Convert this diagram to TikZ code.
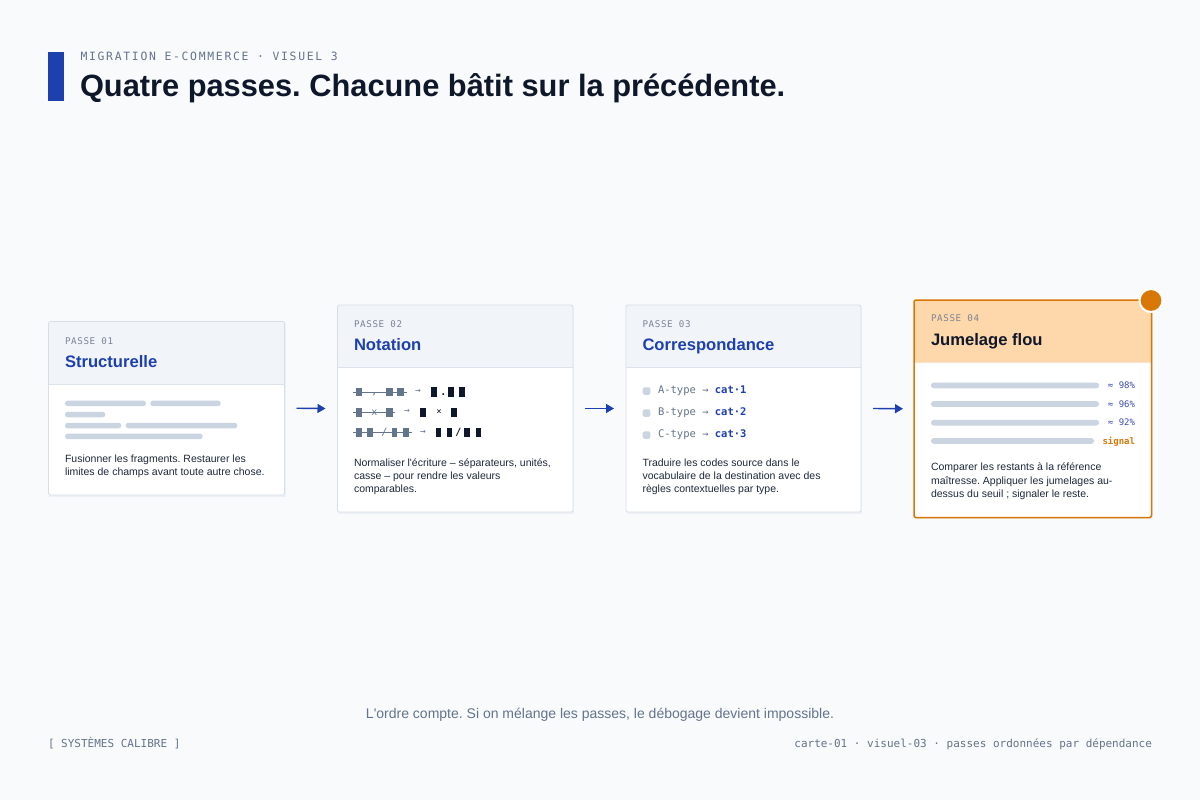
\documentclass[tikz,border=0pt]{standalone}
\usepackage{fontspec}
\setmainfont{Liberation Sans}[Ligatures=TeXOff]
\newfontfamily\monof{DejaVu Sans Mono}[Ligatures=TeXOff]
\newfontfamily\monoL{DejaVu Sans Mono}[Ligatures=TeXOff,LetterSpace=15]
\newfontfamily\monoP{DejaVu Sans Mono}[Ligatures=TeXOff,LetterSpace=7]
\usetikzlibrary{arrows.meta}
\frenchspacing
\definecolor{bgc}{HTML}{F8FAFC}
\definecolor{cardline}{HTML}{D8DEE8}
\definecolor{hdrc}{HTML}{F1F4F9}
\definecolor{divc}{HTML}{DDE3EC}
\definecolor{bluec}{HTML}{1E40AF}
\definecolor{pctc}{HTML}{3B4CB0}
\definecolor{inkc}{HTML}{0F172A}
\definecolor{txtc}{HTML}{1E293B}
\definecolor{slatec}{HTML}{64748B}
\definecolor{mutedc}{HTML}{7B8494}
\definecolor{barc}{HTML}{CBD5E1}
\definecolor{orangec}{HTML}{D97706}
\definecolor{peachc}{HTML}{FED7AA}
\definecolor{peachdiv}{HTML}{F6E3CC}
\definecolor{shadc}{HTML}{EDF0F5}
\newcommand\setfs[1]{\fontsize{#1}{#1}\selectfont}
\begin{document}
\frenchspacing
\begin{tikzpicture}[x=1pt,y=-1pt,
  every node/.style={inner sep=0pt,outer sep=0pt},
  cardbg/.style={fill=white,rounded corners=2pt},
  cardedge/.style={draw=cardline,line width=0.8pt},
  hotedge/.style={draw=orangec,line width=1.5pt},
  passe/.style={anchor=base west,font=\monoP\setfs{9.2},text=mutedc},
  ctitle/.style={anchor=base west,font=\bfseries\setfs{16.6},text=bluec},
  body/.style={anchor=base west,font=\setfs{10.5},text=txtc},
  barr/.style={fill=barc,rounded corners=2.6pt},
  gblk/.style={fill=slatec},
  dblk/.style={fill=inkc},
  gch/.style={font=\monof\setfs{10},text=slatec},
  dch/.style={font=\monof\bfseries\setfs{10},text=inkc},
  arrch/.style={font=\monof\setfs{9.5},text=slatec},
  flow/.style={draw=bluec,line width=1.4pt,-{Triangle[length=8pt,width=9pt]}},
  pct/.style={anchor=base east,font=\monof\setfs{9},text=pctc},
]
\path[use as bounding box,fill=bgc] (0,0) rectangle (1200,800);

% header
\fill[bluec] (48,52.3) rectangle (64,101);
\node[anchor=base west,font=\monoL\setfs{11.4},text=slatec] (kicker) at (80.5,60) {MIGRATION E-COMMERCE · VISUEL 3};
\node[anchor=base west,font=\bfseries\setfs{30.8},text=inkc] (title) at (80,96) {Quatre passes. Chacune bâtit sur la précédente.};

% ---------- card 1
\fill[shadc] (49,323) rectangle (285.5,496.5);
\node[cardbg,minimum width=236pt,minimum height=173.5pt,anchor=north west] (c1) at (48.5,321.5) {};
\fill[hdrc] (48.5,321.5) rectangle (284.5,384);
\draw[divc,line width=0.8pt] (48.5,384) -- (284.5,384);
\draw[cardedge,rounded corners=2pt] (c1.north west) rectangle (c1.south east);
\node[passe] (p1) at (65,344) {PASSE 01};
\node[ctitle] (t1) at (65,367) {Structurelle};
\fill[barr] (65,400.7) rectangle (146,406.2);
\fill[barr] (150.3,400.7) rectangle (220.7,406.2);
\fill[barr] (65,411.8) rectangle (105.3,417.3);
\fill[barr] (65,422.8) rectangle (121.3,428.3);
\fill[barr] (125.7,422.8) rectangle (237.3,428.3);
\fill[barr] (65,433.6) rectangle (202.7,439.1);
\node[body] (b1a) at (65,462.5) {Fusionner les fragments. Restaurer les};
\node[body] (b1b) at (65,475.5) {limites de champs avant toute autre chose.};

% ---------- card 2
\fill[shadc] (338,306.5) rectangle (574,513.5);
\node[cardbg,minimum width=235.5pt,minimum height=207pt,anchor=north west] (c2) at (337.5,305) {};
\fill[hdrc] (337.5,305) rectangle (573,367);
\draw[divc,line width=0.8pt] (337.5,367) -- (573,367);
\draw[cardedge,rounded corners=2pt] (c2.north west) rectangle (c2.south east);
\node[passe] (p2) at (354,327) {PASSE 02};
\node[ctitle] (t2) at (354,350.3) {Notation};
% row 1
\draw[slatec,line width=0.9pt] (353,392) -- (407,392);
\fill[gblk] (355.7,387.6) rectangle (362,396.4);
\fill[gblk] (386.4,387.6) rectangle (392.7,396.4);
\fill[gblk] (397.1,387.6) rectangle (403.5,396.4);
\node[gch] (r1c) at (374.3,394.5) {,};
\node[arrch] (r1a) at (418,391.5) {→};
\fill[dblk] (430.8,387.3) rectangle (437,396.7);
\node[dch] (r1d) at (443.3,394.3) {.};
\fill[dblk] (448.1,387.3) rectangle (454.2,396.7);
\fill[dblk] (459.1,387.3) rectangle (465.2,396.7);
% row 2
\draw[slatec,line width=0.9pt] (353,412.3) -- (395,412.3);
\fill[gblk] (355.7,407.9) rectangle (362,416.7);
\fill[gblk] (386.4,407.9) rectangle (392.7,416.7);
\node[gch] (r2x) at (374.3,412.5) {x};
\node[arrch] (r2a) at (407,411.8) {→};
\fill[dblk] (419.8,407.6) rectangle (425.9,417);
\node[dch,font=\monof\setfs{9}] (r2m) at (439,412.3) {×};
\fill[dblk] (450.8,407.6) rectangle (456.9,417);
% row 3
\draw[slatec,line width=0.9pt] (353,432.5) -- (412,432.5);
\fill[gblk] (355.7,428.1) rectangle (362,436.9);
\fill[gblk] (367.3,428.1) rectangle (373.2,436.9);
\fill[gblk] (391.5,428.1) rectangle (397.4,436.9);
\fill[gblk] (402.5,428.1) rectangle (408.5,436.9);
\node[gch] (r3s) at (384.3,432.5) {/};
\node[arrch] (r3a) at (423,432) {→};
\fill[dblk] (435.5,427.8) rectangle (441.4,437.2);
\fill[dblk] (446.5,427.8) rectangle (452.4,437.2);
\node[dch] (r3d) at (458.3,432.5) {/};
\fill[dblk] (464.1,427.8) rectangle (470,437.2);
\fill[dblk] (475.5,427.8) rectangle (481.4,437.2);
\node[body] (b2a) at (354,466) {Normaliser l'écriture – séparateurs, unités,};
\node[body] (b2b) at (354,479.3) {casse – pour rendre les valeurs};
\node[body] (b2c) at (354,492.6) {comparables.};

% ---------- card 3
\fill[shadc] (626.5,306.5) rectangle (862,513.5);
\node[cardbg,minimum width=235pt,minimum height=207pt,anchor=north west] (c3) at (626,305) {};
\fill[hdrc] (626,305) rectangle (861,367);
\draw[divc,line width=0.8pt] (626,367) -- (861,367);
\draw[cardedge,rounded corners=2pt] (c3.north west) rectangle (c3.south east);
\node[passe] (p3) at (642.5,327) {PASSE 03};
\node[ctitle] (t3) at (642.5,350.3) {Correspondance};
\fill[barc,rounded corners=1.5pt] (642.7,387.3) rectangle (650.3,394.8);
\fill[barc,rounded corners=1.5pt] (642.7,409.3) rectangle (650.3,416.8);
\fill[barc,rounded corners=1.5pt] (642.7,431.3) rectangle (650.3,438.8);
\node[anchor=base west,font=\monof\setfs{10.5},text=slatec] (m1) at (658,393.7) {A-type → \textcolor{bluec}{\bfseries cat·1}};
\node[anchor=base west,font=\monof\setfs{10.5},text=slatec] (m2) at (658,415.7) {B-type → \textcolor{bluec}{\bfseries cat·2}};
\node[anchor=base west,font=\monof\setfs{10.5},text=slatec] (m3) at (658,437.7) {C-type → \textcolor{bluec}{\bfseries cat·3}};
\node[body] (b3a) at (642.5,466) {Traduire les codes source dans le};
\node[body] (b3b) at (642.5,479.3) {vocabulaire de la destination avec des};
\node[body] (b3c) at (642.5,492.6) {règles contextuelles par type.};

% ---------- card 4
\fill[shadc] (914.5,301.5) rectangle (1152.5,519);
\node[cardbg,minimum width=237.5pt,minimum height=217.5pt,anchor=north west] (c4) at (914,300) {};
\fill[peachc] (914,300) rectangle (1151.5,362);
\draw[peachdiv,line width=1pt] (914,362.3) -- (1151.5,362.3);
\draw[hotedge,rounded corners=2pt] (c4.north west) rectangle (c4.south east);
\node[passe] (p4) at (931,321.7) {PASSE 04};
\node[ctitle,text=inkc] (t4) at (931,345) {Jumelage flou};
\fill[barr] (931,382.7) rectangle (1099,388.3);
\fill[barr] (931,401.2) rectangle (1099,406.8);
\fill[barr] (931,419.9) rectangle (1099,425.5);
\fill[barr] (931,438.2) rectangle (1094,443.8);
\node[pct] (q1) at (1135,388.3) {≈ 98\%};
\node[pct] (q2) at (1135,407) {≈ 96\%};
\node[pct] (q3) at (1135,425.7) {≈ 92\%};
\node[pct,font=\monof\bfseries\setfs{9},text=orangec] (q4) at (1135,444) {signal};
\node[body] (b4a) at (931,470.7) {Comparer les restants à la référence};
\node[body] (b4b) at (931,484) {maîtresse. Appliquer les jumelages au-};
\node[body] (b4c) at (931,497.3) {dessus du seuil ; signaler le reste.};
\node[circle,fill=orangec,draw=white,line width=2pt,minimum size=23pt] (dot) at (1151,300.5) {};

% ---------- connectors
\draw[flow] ([xshift=12pt]c1.east) -- ([xshift=-12pt]c2.west);
\draw[flow] ([xshift=12pt]c2.east) -- ([xshift=-12pt]c3.west);
\draw[flow] ([xshift=12pt]c3.east) -- ([xshift=-11pt]c4.west);

% ---------- footer
\node[anchor=base,font=\setfs{14},text=slatec] (note) at (600,718) {L'ordre compte. Si on mélange les passes, le débogage devient impossible.};
\node[anchor=base west,font=\monof\setfs{11},text=slatec] (brand) at (48,747.3) {[ SYSTÈMES CALIBRE ]};
\node[anchor=base east,font=\monof\setfs{11},text=slatec] (meta) at (1152,747.3) {carte-01 · visuel-03 · passes ordonnées par dépendance};
\end{tikzpicture}
\end{document}
